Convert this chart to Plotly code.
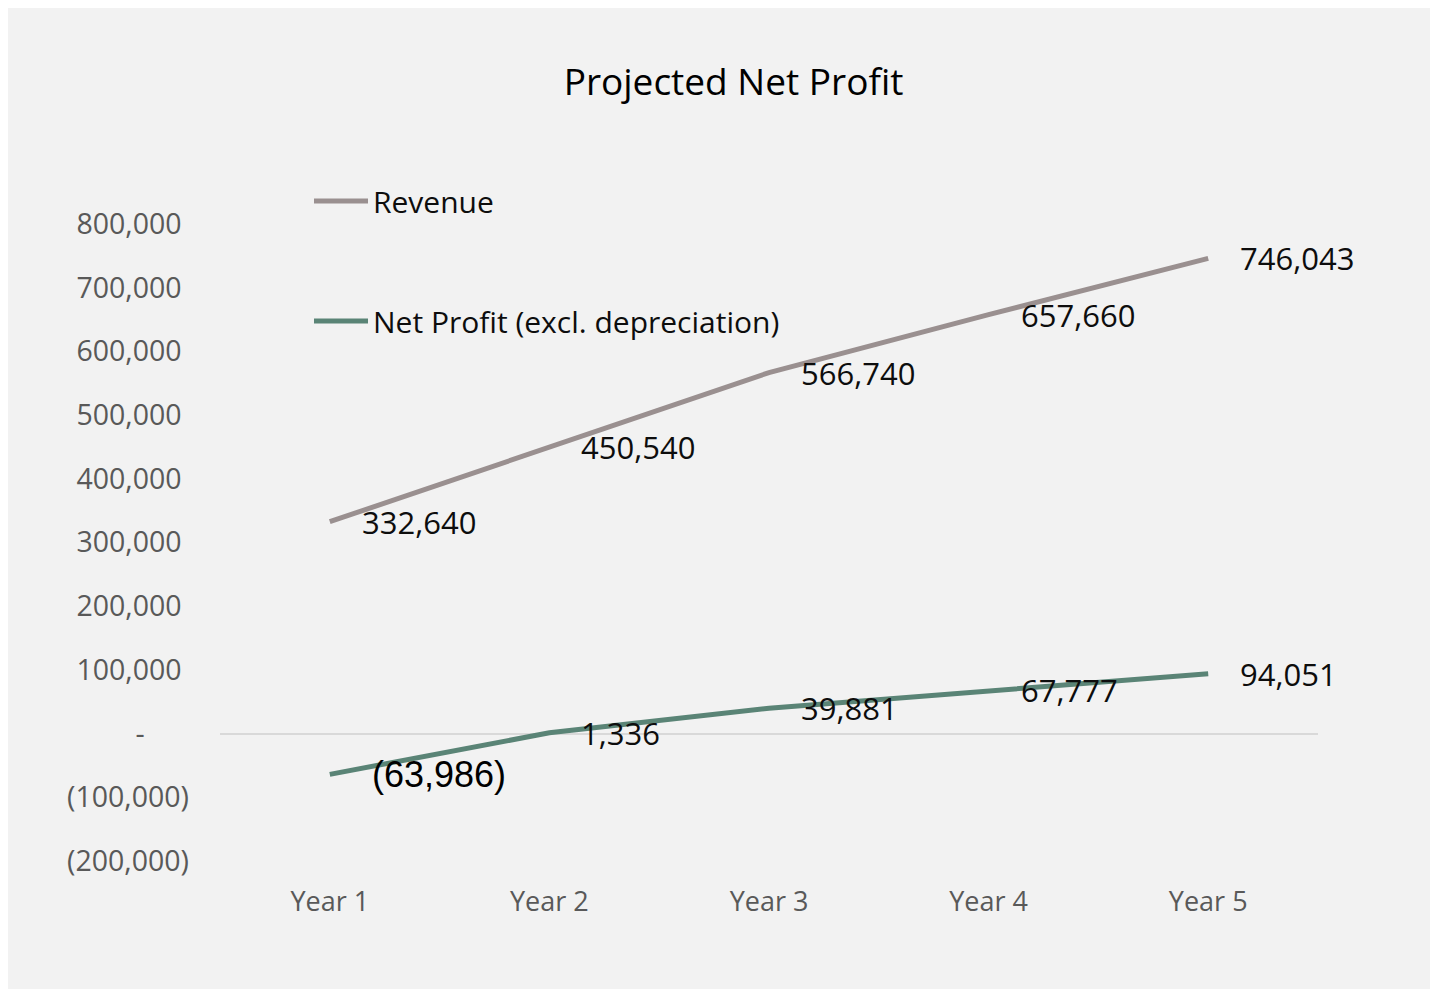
import plotly.graph_objects as go

categories = ["Year 1", "Year 2", "Year 3", "Year 4", "Year 5"]
revenue = [332640, 450540, 566740, 657660, 746043]
net_profit = [-63986, 1336, 39881, 67777, 94051]
revenue_labels = ["332,640", "450,540", "566,740", "657,660", "746,043"]
net_profit_labels = ["(63,986)", "1,336", "39,881", "67,777", "94,051"]
y_tickvals = [800000, 700000, 600000, 500000, 400000, 300000, 200000, 100000, 0, -100000, -200000]
y_ticktext = ["800,000\u00a0", "700,000\u00a0", "600,000\u00a0", "500,000\u00a0", "400,000\u00a0",
              "300,000\u00a0", "200,000\u00a0", "100,000\u00a0", "-\u00a0\u00a0\u00a0\u00a0\u00a0\u00a0",
              "(100,000)", "(200,000)"]

REV_COLOR = "#9a9090"
NP_COLOR = "#5a8476"
FONT = "Open Sans"

# page has an 8px body margin; figure coordinates = page coordinates - 8
OFF = 8
W, H = 1438 - OFF, 989 - OFF
L, R, T, B = 220 - OFF, 120, 224 - OFF, 128
PW = W - L - R
PH = H - T - B

def px_x(p):
    return (p - OFF - L) / PW

def px_y(p):
    return (H - B - (p - OFF)) / PH

fig = go.Figure()
fig.add_trace(go.Scatter(x=categories, y=revenue, mode="lines", name="Revenue",
                         line=dict(color=REV_COLOR, width=5), legend="legend"))
fig.add_trace(go.Scatter(x=categories, y=net_profit, mode="lines", name="Net Profit (excl. depreciation)",
                         line=dict(color=NP_COLOR, width=5), legend="legend2"))

annotations = []
for c, v, t in zip(categories, revenue, revenue_labels):
    annotations.append(dict(x=c, y=v, text=t, showarrow=False, xanchor="left", yanchor="middle",
                            xshift=30, font=dict(family=FONT, size=31, color="#0d0d0d")))
for i, (c, v, t) in enumerate(zip(categories, net_profit, net_profit_labels)):
    if i == 0:
        f = dict(family="Liberation Sans, Arial", size=36, color="#000000")
        xs = 40
    else:
        f = dict(family=FONT, size=31, color="#0d0d0d")
        xs = 30
    annotations.append(dict(x=c, y=v, text=t, showarrow=False, xanchor="left", yanchor="middle",
                            xshift=xs, font=f))

LEG_X = 309
fig.update_layout(
    width=W, height=H,
    margin=dict(l=L, r=R, t=T, b=B, pad=0),
    paper_bgcolor="#ffffff",
    plot_bgcolor="#f2f2f2",
    title=dict(text="Projected Net Profit", x=(733.5 - OFF) / W, xanchor="center", y=1 - (82 - OFF) / H,
               yanchor="middle", font=dict(family=FONT, size=37, color="#000000")),
    font=dict(family=FONT),
    showlegend=True,
    legend=dict(x=px_x(LEG_X), y=px_y(201), xanchor="left", yanchor="middle",
                bgcolor="rgba(0,0,0,0)", font=dict(family=FONT, size=30, color="#0d0d0d"),
                itemwidth=54),
    legend2=dict(x=px_x(LEG_X), y=px_y(321), xanchor="left", yanchor="middle",
                 bgcolor="rgba(0,0,0,0)", font=dict(family=FONT, size=30, color="#0d0d0d"),
                 itemwidth=54),
    annotations=annotations,
    shapes=[dict(type="rect", xref="paper", yref="paper", layer="below",
                 x0=px_x(6), x1=px_x(1450), y0=px_y(1000), y1=px_y(6),
                 fillcolor="#f2f2f2", line=dict(width=0))],
    xaxis=dict(type="category", range=[-0.5, 4.5], showgrid=False, zeroline=False, showline=False,
               ticks="", ticklabelstandoff=22,
               tickfont=dict(family=FONT, size=27, color="#595959")),
    yaxis=dict(range=[-200000, 800000], tickvals=y_tickvals, ticktext=y_ticktext,
               showgrid=False, zeroline=True, zerolinecolor="#d9d9d9", zerolinewidth=2,
               showline=False, ticks="", ticklabelstandoff=30,
               tickfont=dict(family=FONT, size=28.5, color="#595959")),
)

fig.write_html("out.html")
